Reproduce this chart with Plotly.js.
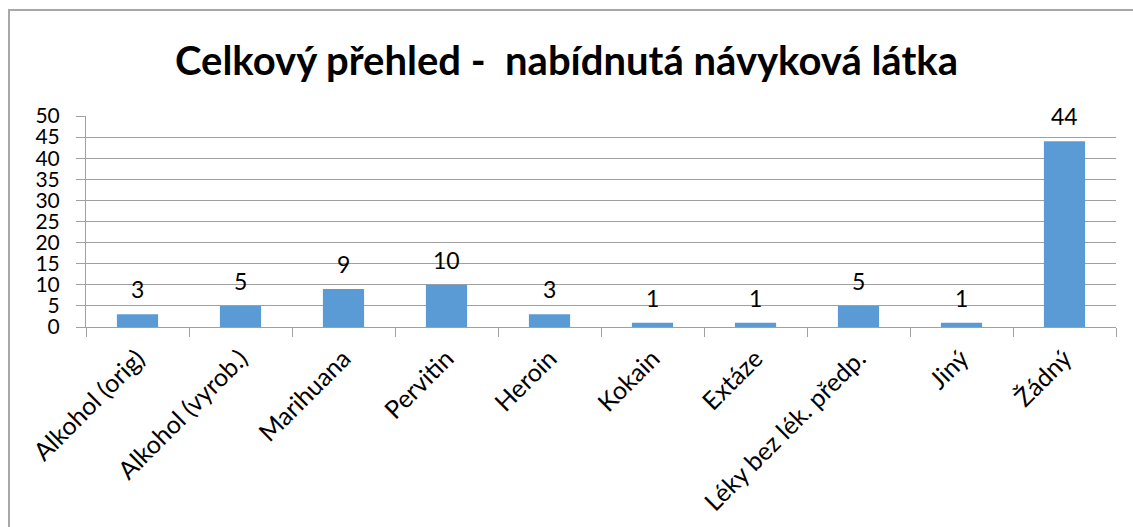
<!DOCTYPE html>
<html>
<head>
<meta charset="utf-8">
<script src="https://cdn.plot.ly/plotly-3.0.1.min.js"></script>
<style>
  html, body { margin: 0; padding: 0; background: #fff; overflow: hidden; }
  #frame { position: absolute; left: 8px; top: 9px; width: 1140px; height: 540px; border: 2px solid #a8a8a8; box-sizing: border-box; }
  #chart { position: absolute; left: 0; top: 0; width: 1133px; height: 527px; }
</style>
</head>
<body>
<div id="frame"></div>
<div id="chart"></div>
<script>
const categories = ["Alkohol (orig)", "Alkohol (vyrob.)", "Marihuana", "Pervitin", "Heroin", "Kokain", "Extáze", "Léky bez lék. předp.", "Jiný", "Žádný"];
const values = [3, 5, 9, 10, 3, 1, 1, 5, 1, 44];
const yTicks = [0, 5, 10, 15, 20, 25, 30, 35, 40, 45, 50];
const titleText = "Celkový přehled -  nabídnutá návyková látka";

const font = "Lato, 'Open Sans', sans-serif";

const trace = {
  type: "bar",
  x: categories,
  y: values,
  marker: { color: "#5B9BD5" },
  hoverinfo: "none"
};

const annotations = categories.map((c, i) => ({
  x: c,
  y: values[i],
  text: String(values[i]),
  showarrow: false,
  yanchor: "bottom",
  yshift: 9,
  font: { family: font, size: 23, color: "#000" }
}));

const layout = {
  width: 1133,
  height: 527,
  paper_bgcolor: "rgba(0,0,0,0)",
  plot_bgcolor: "rgba(0,0,0,0)",
  margin: { l: 86, r: 17, t: 116, b: 200 },
  title: {
    text: "<b>" + titleText + "</b>",
    x: 0.5,
    xanchor: "center",
    y: 0.885,
    yanchor: "middle",
    font: { family: font, size: 40, color: "#000" }
  },
  bargap: 0.6,
  showlegend: false,
  xaxis: {
    type: "category",
    tickangle: -45,
    tickson: "boundaries",
    ticks: "outside",
    ticklen: 9,
    tickcolor: "#a0a0a0",
    showline: true,
    linecolor: "#a0a0a0",
    linewidth: 1,
    showgrid: false,
    ticklabelstandoff: 6,
    tickfont: { family: font, size: 25, color: "#000" },
    automargin: false
  },
  yaxis: {
    range: [0, 50],
    tickvals: yTicks,
    ticktext: yTicks.map(String),
    ticks: "outside",
    ticklen: 9,
    tickcolor: "#a0a0a0",
    showline: true,
    linecolor: "#a0a0a0",
    linewidth: 1,
    showgrid: true,
    gridcolor: "#a0a0a0",
    gridwidth: 1,
    zeroline: false,
    ticklabelstandoff: 12,
    tickfont: { family: font, size: 21, color: "#000" },
    automargin: false
  },
  annotations: annotations
};

Plotly.newPlot("chart", [trace], layout, { staticPlot: true, displayModeBar: false });
</script>
</body>
</html>
